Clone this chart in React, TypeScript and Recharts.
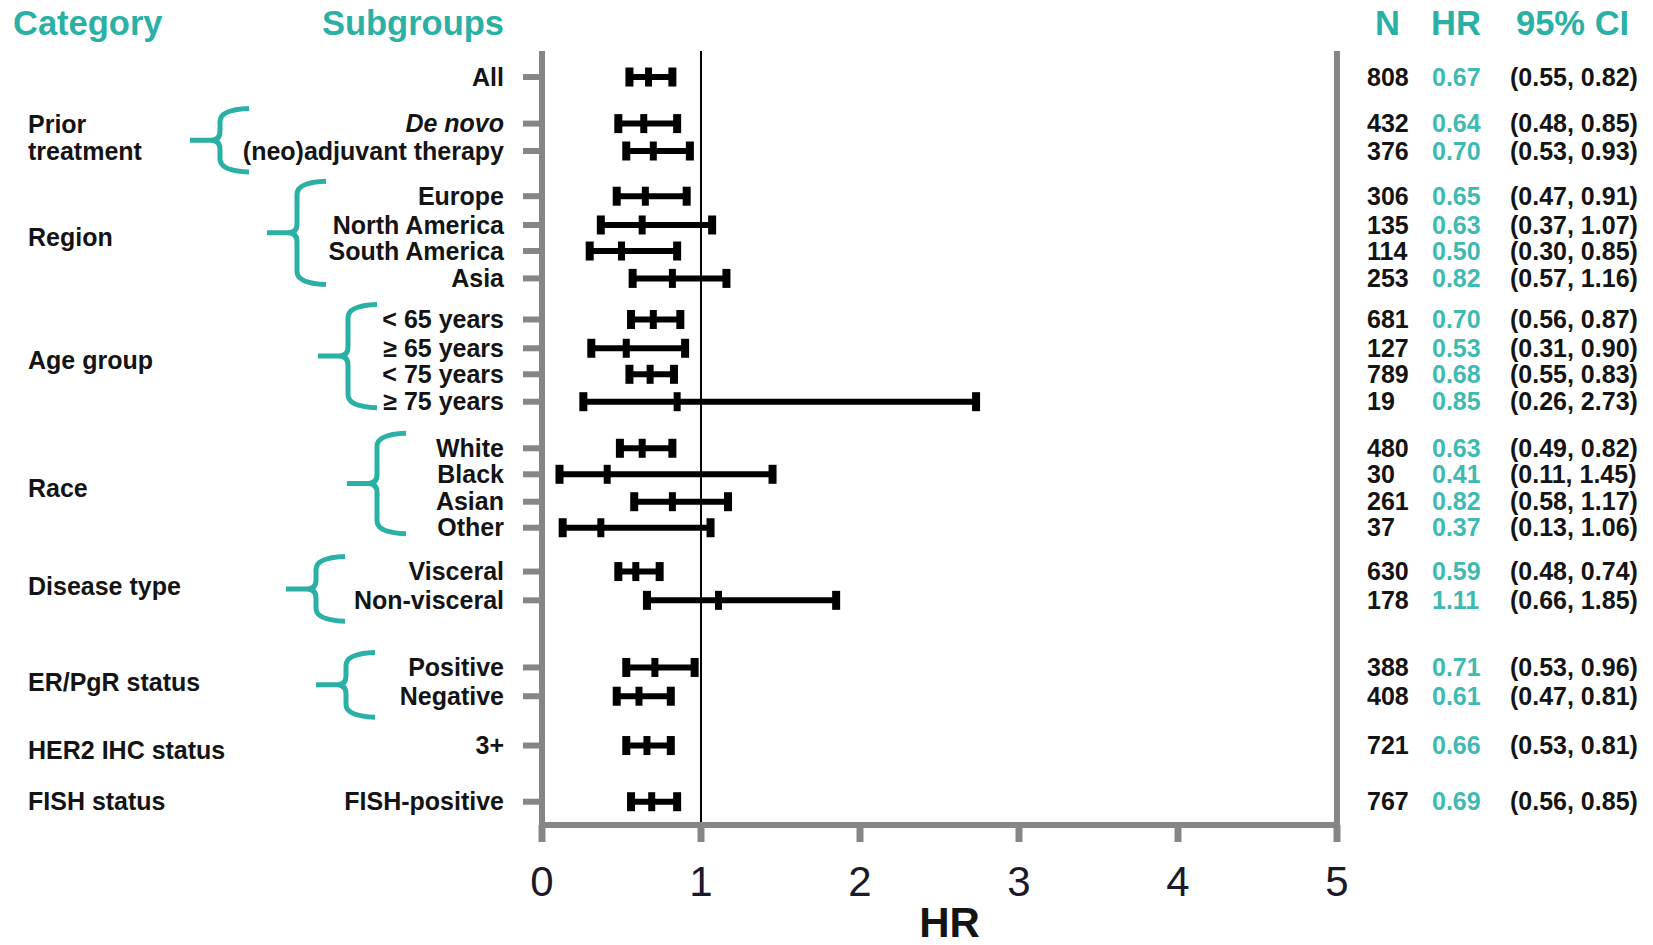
import React from 'react';
import { ScatterChart, Scatter, XAxis, YAxis, ReferenceLine } from 'recharts';

// ---------- data ----------
const subgroups = [
  'All', 'De novo', '(neo)adjuvant therapy', 'Europe', 'North America', 'South America', 'Asia',
  '< 65 years', '≥ 65 years', '< 75 years', '≥ 75 years', 'White', 'Black', 'Asian', 'Other',
  'Visceral', 'Non-visceral', 'Positive', 'Negative', '3+', 'FISH-positive',
];
// vertical position of each row, in row units from the top of the plot
const rowPos = [0.95, 2.65, 3.65, 5.3, 6.35, 7.3, 8.3, 9.8, 10.85, 11.8, 12.8, 14.5, 15.45, 16.45, 17.4, 19.0, 20.05, 22.5, 23.55, 25.35, 27.4];
const nValues = [808, 432, 376, 306, 135, 114, 253, 681, 127, 789, 19, 480, 30, 261, 37, 630, 178, 388, 408, 721, 767];
const hrValues = [0.67, 0.64, 0.70, 0.65, 0.63, 0.50, 0.82, 0.70, 0.53, 0.68, 0.85, 0.63, 0.41, 0.82, 0.37, 0.59, 1.11, 0.71, 0.61, 0.66, 0.69];
const ciLow = [0.55, 0.48, 0.53, 0.47, 0.37, 0.30, 0.57, 0.56, 0.31, 0.55, 0.26, 0.49, 0.11, 0.58, 0.13, 0.48, 0.66, 0.53, 0.47, 0.53, 0.56];
const ciHigh = [0.82, 0.85, 0.93, 0.91, 1.07, 0.85, 1.16, 0.87, 0.90, 0.83, 2.73, 0.82, 1.45, 1.17, 1.06, 0.74, 1.85, 0.96, 0.81, 0.81, 0.85];

const categoryNames = [['Prior', 'treatment'], ['Region'], ['Age group'], ['Race'], ['Disease type'], ['ER/PgR status'], ['HER2 IHC status'], ['FISH status']];
const categoryFirst = [1, 3, 7, 11, 15, 17, 19, 20];
const categoryLast = [2, 6, 10, 14, 16, 18, 19, 20];

const xTicks = [0, 1, 2, 3, 4, 5];
const headerLeft = ['Category', 'Subgroups'];
const headerRight = ['N', 'HR', '95% CI'];

// ---------- layout / style ----------
const W = 1653;
const H = 945;
const PLOT_TOP = 51;
const PLOT_H = 774;
const LEFT_W = 542;
const RIGHT_W = W - 1337;
const X_AXIS_H = H - PLOT_TOP - PLOT_H;
const Y_MAX = 28.25;
const PX = PLOT_H / Y_MAX;
const braceSpineX = [220, 297, 348, 377, 316, 346, null, null];
const categoryDy = [0, 0, 0, 0, 0, 0, 5, 0];
const colX = [1367, 1432, 1510];

const FONT = '"Liberation Sans", Arial, sans-serif';
const TEAL = '#2bb0a5';
const TEAL_VAL = '#3fbab2';
const GRAY = '#868686';
const INK = '#141414';

const lineData = rowPos.map((p, i) => [
  { x: ciLow[i], y: p },
  { x: ciHigh[i], y: p },
]);
const capData = rowPos.flatMap((p, i) => [
  { x: ciLow[i], y: p },
  { x: ciHigh[i], y: p },
]);
const hrData = rowPos.map((p, i) => ({ x: hrValues[i], y: p }));

const CapShape = (props: any) => {
  const { cx, cy } = props;
  if (cx == null || cy == null) return <g />;
  return <rect x={cx - 4} y={cy - 9.5} width={8} height={19} fill="#000" />;
};
const HrShape = (props: any) => {
  const { cx, cy } = props;
  if (cx == null || cy == null) return <g />;
  return <rect x={cx - 3.5} y={cy - 9.5} width={7} height={19} fill="#000" />;
};
const NoShape = () => <g />;

const findRow = (v: number) => {
  let best = 0;
  let d = Infinity;
  rowPos.forEach((p, i) => {
    if (Math.abs(p - v) < d) {
      d = Math.abs(p - v);
      best = i;
    }
  });
  return best;
};

const LeftTick = (props: any) => {
  const { x, y, payload } = props;
  const i = findRow(payload.value);
  const ci = categoryFirst.indexOf(i);
  let extra: React.ReactNode = null;
  if (ci >= 0) {
    const first = categoryFirst[ci];
    const last = categoryLast[ci];
    const yFirst = y;
    const yLast = y + (rowPos[last] - rowPos[first]) * PX;
    const mid = (yFirst + yLast) / 2 + categoryDy[ci];
    const lines = categoryNames[ci];
    const lh = 27;
    const sx = braceSpineX[ci];
    let brace: React.ReactNode = null;
    if (sx != null) {
      const nRows = last - first + 1;
      const top = yFirst - 14;
      const bottom = yLast + (nRows <= 2 ? 20 : 5);
      const bm = (top + bottom) / 2;
      const R = sx + 29;
      const L = sx - 30;
      const d =
        `M ${R} ${top - 1} Q ${sx} ${top} ${sx} ${top + 12} L ${sx} ${bm - 9} Q ${sx} ${bm} ${sx - 9} ${bm} L ${L} ${bm} ` +
        `M ${sx - 9} ${bm} Q ${sx} ${bm} ${sx} ${bm + 9} L ${sx} ${bottom - 12} Q ${sx} ${bottom} ${R} ${bottom + 1}`;
      brace = <path d={d} fill="none" stroke={TEAL} strokeWidth={5} strokeLinejoin="round" />;
    }
    extra = (
      <g>
        {lines.map((t, k) => (
          <text
            key={k}
            x={28}
            y={mid + (k - (lines.length - 1) / 2) * lh}
            dy="0.35em"
            fontFamily={FONT}
            fontSize={25}
            fontWeight="bold"
            fill={INK}
          >
            {t}
          </text>
        ))}
        {brace}
      </g>
    );
  }
  return (
    <g>
      <text
        x={x}
        y={y}
        dy="0.35em"
        textAnchor="end"
        fontFamily={FONT}
        fontSize={25}
        fontWeight="bold"
        fontStyle={i === 1 ? 'italic' : 'normal'}
        fill={INK}
      >
        {subgroups[i]}
      </text>
      <g fontFamily={FONT} fontSize={25} fontWeight="bold">
        <text x={colX[0]} y={y} dy="0.35em" fill={INK}>
          {nValues[i]}
        </text>
        <text x={colX[1]} y={y} dy="0.35em" fill={TEAL_VAL}>
          {hrValues[i].toFixed(2)}
        </text>
        <text x={colX[2]} y={y} dy="0.35em" fill={INK}>
          {`(${ciLow[i].toFixed(2)}, ${ciHigh[i].toFixed(2)})`}
        </text>
      </g>
      {extra}
    </g>
  );
};

export default function App() {
  return (
    <div style={{ position: 'absolute', left: 0, top: 0, width: W, height: H, background: '#fff' }}>
      <ScatterChart width={W} height={H} margin={{ top: PLOT_TOP, right: 0, bottom: 0, left: 0 }}>
        <XAxis
          type="number"
          dataKey="x"
          domain={[0, 5]}
          ticks={xTicks}
          interval={0}
          height={X_AXIS_H}
          axisLine={{ stroke: GRAY, strokeWidth: 6 }}
          tickLine={{ stroke: GRAY, strokeWidth: 7 }}
          tickSize={17}
          tickMargin={24}
          tick={{ fontSize: 42, fill: '#1a1a2a', fontFamily: FONT }}
          label={{ value: 'HR', position: 'insideBottom', offset: 8, dx: 10, fontSize: 42, fontWeight: 'bold', fill: INK, fontFamily: FONT }}
        />
        <YAxis
          yAxisId="l"
          type="number"
          dataKey="y"
          domain={[0, Y_MAX]}
          reversed
          ticks={rowPos}
          interval={0}
          width={LEFT_W}
          axisLine={{ stroke: GRAY, strokeWidth: 6 }}
          tickLine={{ stroke: GRAY, strokeWidth: 6 }}
          tickSize={19}
          tickMargin={19}
          tick={<LeftTick />}
        />
        <YAxis
          yAxisId="r"
          orientation="right"
          type="number"
          domain={[0, Y_MAX]}
          reversed
          ticks={[]}
          width={RIGHT_W}
          axisLine={{ stroke: GRAY, strokeWidth: 6 }}
          tickLine={false}
          tick={false}
        />
        <ReferenceLine yAxisId="l" x={1} stroke="#000" strokeWidth={2} />
        {lineData.map((d, i) => (
          <Scatter
            key={`line-${i}`}
            yAxisId="l"
            data={d}
            line={{ stroke: '#000', strokeWidth: 6 }}
            shape={NoShape}
            fill="#000"
            isAnimationActive={false}
          />
        ))}
        <Scatter yAxisId="l" data={capData} shape={CapShape} fill="#000" isAnimationActive={false} />
        <Scatter yAxisId="l" data={hrData} shape={HrShape} fill="#000" isAnimationActive={false} />
      </ScatterChart>
      <svg width={W} height={H} style={{ position: 'absolute', left: 0, top: 0, pointerEvents: 'none' }}>
        <g fontFamily={FONT} fontSize={34.5} fontWeight="bold" fill={TEAL}>
          <text x={13} y={35}>{headerLeft[0]}</text>
          <text x={504} y={35} textAnchor="end">{headerLeft[1]}</text>
          <text x={1375} y={35}>{headerRight[0]}</text>
          <text x={1431} y={35}>{headerRight[1]}</text>
          <text x={1516} y={35}>{headerRight[2]}</text>
        </g>
      </svg>
    </div>
  );
}
